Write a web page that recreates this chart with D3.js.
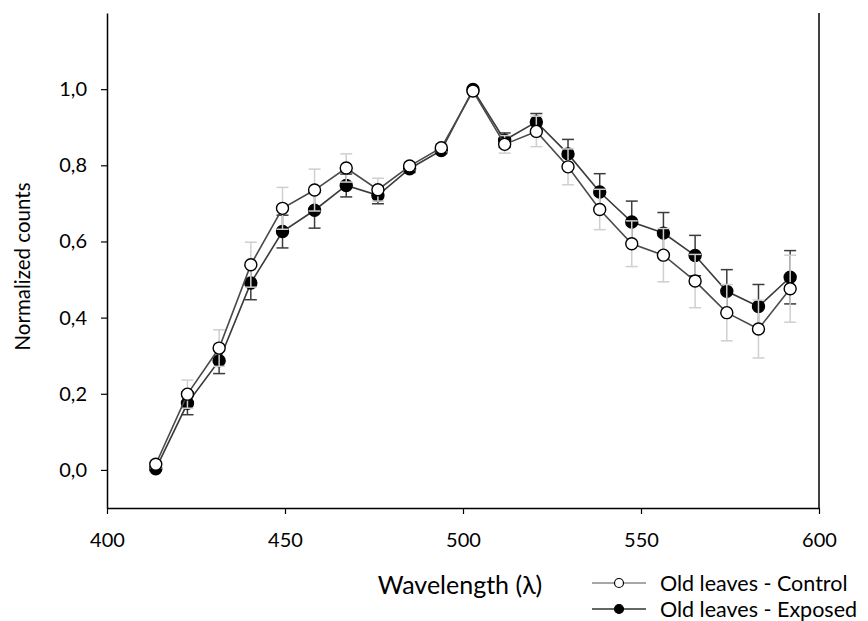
<!DOCTYPE html>
<html>
<head>
<meta charset="utf-8">
<script src="https://cdn.jsdelivr.net/npm/d3@7"></script>
<style>
  html, body { margin: 0; padding: 0; background: #fff; }
  svg { display: block; font-family: Lato, "Open Sans", sans-serif; }
</style>
</head>
<body>
<svg id="chart" width="868" height="621"></svg>
<script>
// Wavelengths (nm) of the spectral bins
const wavelengths = [413.7, 422.6, 431.5, 440.4, 449.3, 458.3, 467.2, 476.1, 485.0, 493.9, 502.8,
                     511.7, 520.6, 529.5, 538.4, 547.4, 556.3, 565.2, 574.1, 583.0, 591.9];

// Old leaves - Control: normalized counts and standard error
const controlValues = [0.015, 0.199, 0.320, 0.539, 0.687, 0.735, 0.793, 0.736, 0.798, 0.846, 0.995,
                       0.855, 0.889, 0.796, 0.684, 0.594, 0.564, 0.496, 0.413, 0.370, 0.476];
const controlErrors = [0.010, 0.037, 0.048, 0.059, 0.055, 0.055, 0.037, 0.030, 0.010, 0.010, 0.005,
                       0.023, 0.040, 0.047, 0.053, 0.060, 0.070, 0.070, 0.074, 0.076, 0.088];

// Old leaves - Exposed: normalized counts and standard error
const exposedValues = [0.003, 0.175, 0.287, 0.491, 0.626, 0.682, 0.747, 0.721, 0.791, 0.839, 0.999,
                       0.866, 0.914, 0.830, 0.730, 0.651, 0.622, 0.563, 0.469, 0.429, 0.506];
const exposedErrors = [0.005, 0.030, 0.034, 0.044, 0.043, 0.047, 0.030, 0.022, 0.010, 0.008, 0.005,
                       0.019, 0.022, 0.038, 0.048, 0.055, 0.054, 0.053, 0.057, 0.058, 0.070];

const xTicks = [400, 450, 500, 550, 600];
const yTicks = [0, 0.2, 0.4, 0.6, 0.8, 1.0];
const seriesNames = ["Old leaves - Control", "Old leaves - Exposed"];

const svg = d3.select("#chart");
const plot = { left: 107, right: 819, top: 13, bottom: 508 };

const x = d3.scaleLinear().domain([400, 600]).range([plot.left, plot.right]);
const y = d3.scaleLinear().domain([-0.1, 1.2]).range([plot.bottom, plot.top]);

const fmt = v => d3.format(".1f")(v).replace(".", ",");

// Axes
const xAxis = svg.append("g")
  .attr("transform", `translate(0,${plot.bottom})`)
  .call(d3.axisBottom(x).tickValues(xTicks).tickSizeInner(6).tickSizeOuter(0).tickPadding(19).tickFormat(d3.format("d")));
const yAxis = svg.append("g")
  .attr("transform", `translate(${plot.left},0)`)
  .call(d3.axisLeft(y).tickValues(yTicks).tickSizeInner(6).tickSizeOuter(0).tickPadding(14).tickFormat(fmt));

[xAxis, yAxis].forEach(g => {
  g.select(".domain").attr("stroke", "#000").attr("stroke-width", 1.5);
  g.selectAll(".tick line").attr("stroke", "#000").attr("stroke-width", 1.2);
  g.selectAll(".tick text").attr("fill", "#000").attr("font-size", 20).attr("font-family", "Lato, sans-serif");
});

// Right frame line
svg.append("line")
  .attr("x1", x(600)).attr("x2", x(600))
  .attr("y1", y(1.2)).attr("y2", y(-0.1))
  .attr("stroke", "#000").attr("stroke-width", 1.5);

// Axis titles
svg.append("text")
  .attr("x", 460).attr("y", 594)
  .attr("text-anchor", "middle")
  .attr("font-size", 25)
  .text("Wavelength (λ)");
svg.append("text")
  .attr("transform", `translate(30,${(y(1.2) + y(-0.1)) / 2 + 6}) rotate(-90)`)
  .attr("text-anchor", "middle")
  .attr("font-size", 20.5)
  .text("Normalized counts");

// Series drawing: exposed first, control on top
const series = [
  { values: exposedValues, errors: exposedErrors, fill: "#000", errColor: "#3c3c3c", lineColor: "#3a3a3a" },
  { values: controlValues, errors: controlErrors, fill: "#fff", errColor: "#cfcfcf", lineColor: "#4a4a4a" }
];

const line = d3.line().x(d => x(d.w)).y(d => y(d.v));
const cap = 6;

series.forEach(s => {
  const pts = wavelengths.map((w, i) => ({ w, v: s.values[i], e: s.errors[i] }));
  const g = svg.append("g");

  const eb = g.selectAll(".err").data(pts).enter().append("g");
  eb.append("line")
    .attr("x1", d => x(d.w)).attr("x2", d => x(d.w))
    .attr("y1", d => y(d.v - d.e)).attr("y2", d => y(d.v + d.e))
    .attr("stroke", s.errColor).attr("stroke-width", 1.5);
  eb.append("line")
    .attr("x1", d => x(d.w) - cap).attr("x2", d => x(d.w) + cap)
    .attr("y1", d => y(d.v + d.e)).attr("y2", d => y(d.v + d.e))
    .attr("stroke", s.errColor).attr("stroke-width", 1.5);
  eb.append("line")
    .attr("x1", d => x(d.w) - cap).attr("x2", d => x(d.w) + cap)
    .attr("y1", d => y(d.v - d.e)).attr("y2", d => y(d.v - d.e))
    .attr("stroke", s.errColor).attr("stroke-width", 1.5);

  g.append("path").datum(pts)
    .attr("d", line)
    .attr("fill", "none")
    .attr("stroke", s.lineColor)
    .attr("stroke-width", 1.6);

  g.selectAll("circle").data(pts).enter().append("circle")
    .attr("cx", d => x(d.w)).attr("cy", d => y(d.v))
    .attr("r", 6)
    .attr("fill", s.fill)
    .attr("stroke", "#000")
    .attr("stroke-width", 1.4);
});

// Legend
const legend = svg.append("g");
const legendItems = [
  { name: seriesNames[0], fill: "#fff", lineColor: "#8a8a8a", y: 583 },
  { name: seriesNames[1], fill: "#000", lineColor: "#333", y: 609 }
];
legendItems.forEach(item => {
  legend.append("line")
    .attr("x1", 592).attr("x2", 646)
    .attr("y1", item.y).attr("y2", item.y)
    .attr("stroke", item.lineColor).attr("stroke-width", 1.5);
  legend.append("circle")
    .attr("cx", 619).attr("cy", item.y).attr("r", 4.5)
    .attr("fill", item.fill).attr("stroke", "#000").attr("stroke-width", 1.2);
  legend.append("text")
    .attr("x", 660).attr("y", item.y + 7.5)
    .attr("font-size", 21.5)
    .text(item.name);
});
</script>
</body>
</html>
